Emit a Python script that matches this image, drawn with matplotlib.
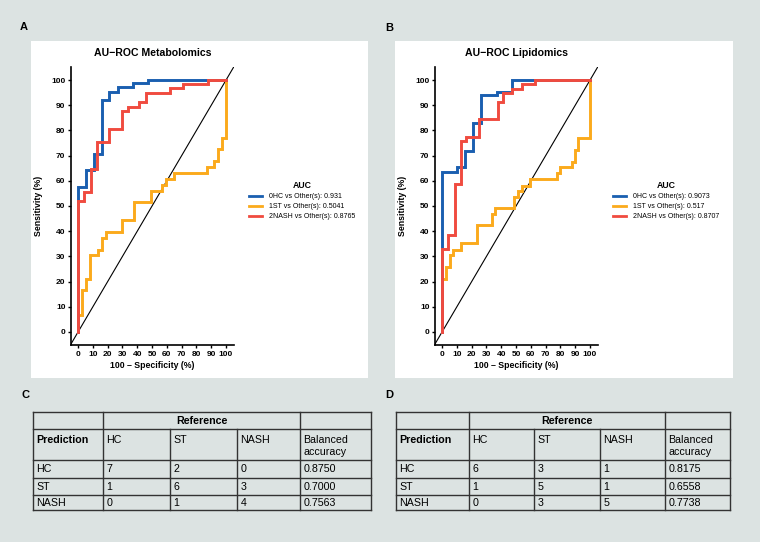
import matplotlib
matplotlib.use('Agg')
import matplotlib.pyplot as plt
from matplotlib.patches import Rectangle
from matplotlib.lines import Line2D

plt.rcParams['font.family'] = ['Liberation Sans', 'DejaVu Sans']

# ---------------- data ----------------
ticks = list(range(0, 101, 10))

# Panel A (Metabolomics) ROC step curves: x = end of each horizontal run, y = its level
a_hc_x = [0, 5.4, 11, 16, 21, 26.8, 37, 47.5, 100]
a_hc_y = [0, 57.6, 64.2, 70.6, 92, 95.4, 97.1, 98.7, 100]
a_st_x = [0, 2.7, 5.4, 8.1, 13.3, 16, 18.7, 30, 37.8, 49.1, 56.5, 59.2, 65, 87, 91.9, 94.4, 97, 100, 100]
a_st_y = [0, 6.9, 16.6, 21.2, 30.5, 32.7, 37.4, 39.7, 44.4, 51.4, 55.9, 58.5, 60.9, 63.2, 65.3, 67.8, 72.5, 77, 100]
a_nash_x = [0, 4, 9, 12.6, 21.2, 29.5, 33.6, 41.4, 46, 62.2, 71.2, 87.6, 100]
a_nash_y = [0, 52, 55.6, 64.6, 75.4, 80.5, 87.7, 89.4, 91.3, 95, 96.7, 98.4, 100]

# Panel B (Lipidomics)
b_hc_x = [0, 10.4, 15.6, 21.2, 26.2, 36.8, 47, 100]
b_hc_y = [0, 63.7, 65.4, 71.7, 82.8, 93.9, 95.4, 100]
b_st_x = [0, 2.5, 5.2, 7.4, 12.6, 23.3, 33.4, 36.1, 48.8, 51, 53.7, 59.4, 77.4, 79.7, 87.6, 89.8, 92.1, 100, 100]
b_st_y = [0, 20.9, 25.8, 30.4, 32.6, 35.3, 42.3, 46.9, 49.1, 53.5, 55.9, 58.1, 60.6, 63, 65.4, 67.6, 72.3, 76.9, 100]
b_nash_x = [0, 4.1, 8.4, 12.6, 16, 25.1, 37.7, 41.3, 47, 54.2, 62.8, 100]
b_nash_y = [0, 33, 38.3, 58.8, 76, 77.5, 84.5, 91.4, 94.8, 96.4, 98.4, 100]

a_labels = ['0HC vs Other(s): 0.931', '1ST vs Other(s): 0.5041', '2NASH vs Other(s): 0.8765']
b_labels = ['0HC vs Other(s): 0.9073', '1ST vs Other(s): 0.517', '2NASH vs Other(s): 0.8707']

classes = ['HC', 'ST', 'NASH']
c_matrix = [[7, 2, 0], [1, 6, 3], [0, 1, 4]]
c_bacc = ['0.8750', '0.7000', '0.7563']
d_matrix = [[6, 3, 1], [1, 5, 1], [0, 3, 5]]
d_bacc = ['0.8175', '0.6558', '0.7738']

# ---------------- style ----------------
W, H = 760, 542
BG = '#dce3e2'
C_HC = '#1a5fb0'
C_ST = '#fbaa1c'
C_NASH = '#f04b3f'

fig = plt.figure(figsize=(W / 100, H / 100), dpi=100, facecolor=BG)

def fx(px):
    return px / W

def fy(py):
    return 1 - py / H

# white panels
for x0, x1 in [(31, 368), (395, 733)]:
    fig.patches.append(Rectangle((fx(x0), fy(378)), fx(x1) - fx(x0), fy(41) - fy(378),
                                 transform=fig.transFigure, facecolor='white',
                                 edgecolor='none', zorder=-10))


def roc_panel(axrect, title, curves, labels, legend_px):
    l, r, t, b = axrect
    ax = fig.add_axes([fx(l), fy(b), fx(r) - fx(l), fy(t) - fy(b)])
    ax.set_facecolor('none')
    ax.set_xlim(-4.8, 105.4)
    ax.set_ylim(-5.2, 105.2)
    ax.plot([-10, 110], [-10, 110], color='black', lw=0.8, zorder=1)
    handles = []
    for (xs, ys, col), z in zip(curves, [3, 2, 4]):
        ax.plot(xs, ys, drawstyle='steps-pre', color=col, lw=2.1,
                solid_joinstyle='miter', zorder=z)
        handles.append(Line2D([], [], color=col, lw=2.0))
    for side in ['top', 'right']:
        ax.spines[side].set_visible(False)
    for side in ['left', 'bottom']:
        ax.spines[side].set_linewidth(1.2)
    ax.set_xticks(ticks)
    ax.set_yticks(ticks)
    ax.tick_params(length=2.5, width=1.0, pad=1.5, labelsize=6.0)
    for lab in ax.get_xticklabels() + ax.get_yticklabels():
        lab.set_fontweight('bold')
    ax.set_title(title, fontsize=7.6, fontweight='bold', pad=8)
    ax.set_xlabel('100 \u2013 Specificity (%)', fontsize=6.3, fontweight='bold', labelpad=2.5)
    ax.set_ylabel('Sensitivity (%)', fontsize=6.3, fontweight='bold', labelpad=6)
    leg = ax.legend(handles, labels, title='AUC', loc='upper left',
                    bbox_to_anchor=(fx(legend_px[0]), fy(legend_px[1])),
                    bbox_transform=fig.transFigure, frameon=False, fontsize=5.0,
                    title_fontproperties={'weight': 'bold', 'size': 6.3},
                    handlelength=1.9, handletextpad=1.0, labelspacing=0.45,
                    borderpad=0, borderaxespad=0)
    leg._legend_box.align = 'center'
    return ax


roc_panel((71, 234, 67, 345), 'AU\u2212ROC Metabolomics',
          [(a_hc_x, a_hc_y, C_HC), (a_st_x, a_st_y, C_ST), (a_nash_x, a_nash_y, C_NASH)],
          a_labels, (249, 181))
roc_panel((435, 598, 67, 345), 'AU\u2212ROC Lipidomics',
          [(b_hc_x, b_hc_y, C_HC), (b_st_x, b_st_y, C_ST), (b_nash_x, b_nash_y, C_NASH)],
          b_labels, (613, 181))

# panel letters
for letter, (px, py) in zip('ABCD', [(20, 27), (385, 28), (21, 395), (385, 395)]):
    fig.text(fx(px), fy(py), letter, fontsize=8, fontweight='bold', ha='left', va='center')

# tables on an overlay axes in pixel space
ov = fig.add_axes([0, 0, 1, 1])
ov.set_xlim(0, W)
ov.set_ylim(H, 0)
ov.axis('off')
ov.set_facecolor('none')

LC = '#333333'
row_y = [412, 429, 460, 477.5, 494.5, 510]


def draw_table(col_x, matrix, bacc):
    x0, x5 = col_x[0], col_x[-1]
    for y in row_y:
        ov.plot([x0, x5], [y, y], color=LC, lw=1.0, solid_capstyle='projecting')
    for i, x in enumerate(col_x):
        if i in (0, 1, 4, 5):
            ov.plot([x, x], [row_y[0], row_y[-1]], color=LC, lw=1.0)
        else:
            ov.plot([x, x], [row_y[1], row_y[-1]], color=LC, lw=1.0)
    fs = 7.7
    pad = 3.5
    ov.text((col_x[1] + col_x[4]) / 2, (row_y[0] + row_y[1]) / 2 + 0.5, 'Reference',
            fontsize=fs, fontweight='bold', ha='center', va='center')
    ov.text(col_x[0] + pad, 440, 'Prediction', fontsize=fs, fontweight='bold',
            ha='left', va='center')
    for j, c in enumerate(classes):
        ov.text(col_x[j + 1] + pad, 440, c, fontsize=fs, ha='left', va='center')
    ov.text(col_x[4] + pad, 440, 'Balanced', fontsize=fs, ha='left', va='center')
    ov.text(col_x[4] + pad, 451.7, 'accuracy', fontsize=fs, ha='left', va='center')
    for i, c in enumerate(classes):
        yc = (row_y[i + 2] + row_y[i + 3]) / 2 + 0.5
        ov.text(col_x[0] + pad, yc, c, fontsize=fs, ha='left', va='center')
        for j in range(3):
            ov.text(col_x[j + 1] + pad, yc, str(matrix[i][j]), fontsize=fs,
                    ha='left', va='center')
        ov.text(col_x[4] + pad, yc, bacc[i], fontsize=fs, ha='left', va='center')


draw_table([33, 103, 170, 237, 300, 371], c_matrix, c_bacc)
draw_table([396, 469, 534, 600, 665, 730], d_matrix, d_bacc)

fig.savefig('out.png', dpi=100, facecolor=BG)
